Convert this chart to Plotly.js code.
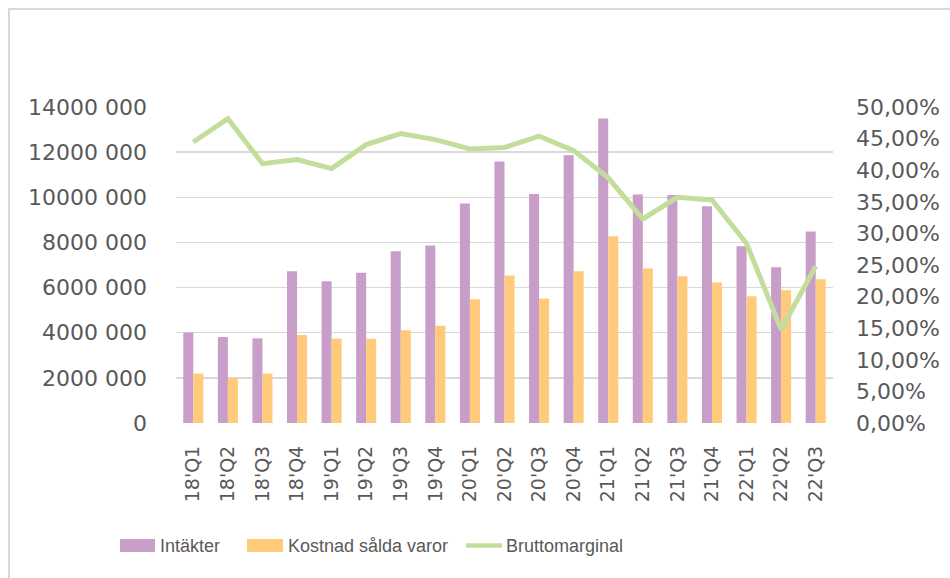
<!DOCTYPE html>
<html>
<head>
<meta charset="utf-8">
<script src="https://cdn.plot.ly/plotly-3.0.1.min.js"></script>
<style>html,body{margin:0;padding:0;background:#fff;}#chart{width:950px;height:578px;}</style>
</head>
<body>
<div id="chart"></div>
<script>
const categories = ["18'Q1","18'Q2","18'Q3","18'Q4","19'Q1","19'Q2","19'Q3","19'Q4","20'Q1","20'Q2","20'Q3","20'Q4","21'Q1","21'Q2","21'Q3","21'Q4","22'Q1","22'Q2","22'Q3"];
const intakter = [4010000,3810000,3750000,6720000,6280000,6660000,7610000,7860000,9720000,11580000,10150000,11860000,13490000,10120000,10100000,9600000,7830000,6900000,8480000];
const kostnad = [2190000,1980000,2190000,3900000,3740000,3730000,4110000,4310000,5480000,6530000,5520000,6720000,8270000,6840000,6500000,6220000,5610000,5880000,6370000];
const bruttomarginal = [0.4446,0.4816,0.4104,0.4168,0.4025,0.4405,0.4579,0.4484,0.4335,0.4360,0.4540,0.4310,0.3880,0.3230,0.3570,0.3530,0.2840,0.1480,0.2480];
const leftTickVals = [0,2000000,4000000,6000000,8000000,10000000,12000000,14000000];
const leftTickText = ["0","2000 000","4000 000","6000 000","8000 000","10000 000","12000 000","14000 000"];
const rightTickVals = [0,0.05,0.10,0.15,0.20,0.25,0.30,0.35,0.40,0.45,0.50];
const seriesNames = ["Intäkter","Kostnad sålda varor","Bruttomarginal"];
const seriesColors = ["#c89ec8","#ffca7a","#c3dd9c"];

const W = 950, H = 578, L = 176, R = 117, T = 107, B = 155;
const pw = W - L - R, ph = H - T - B;
const px = v => (v - L) / pw;      // pixel -> paper x
const py = v => (H - B - v) / ph;  // pixel -> paper y

const axisFont = {family: "DejaVu Sans, sans-serif", size: 22, color: "#595959"};
const legendFont = {family: "Liberation Sans Narrow, Liberation Sans, Arial, sans-serif", size: 18, color: "#595959"};

const traces = [
  {type: "bar", name: seriesNames[0], x: categories, y: intakter, marker: {color: seriesColors[0]}, yaxis: "y"},
  {type: "bar", name: seriesNames[1], x: categories, y: kostnad, marker: {color: seriesColors[1]}, yaxis: "y"},
  {type: "scatter", mode: "lines", name: seriesNames[2], x: categories, y: bruttomarginal, yaxis: "y2",
   line: {color: seriesColors[2], width: 5}}
];

// custom legend (swatch + label), positioned in paper coordinates
const legendY = 545.5;
const legendItems = [
  {sx0: 120, sx1: 155, tx: 158, kind: "rect"},
  {sx0: 247, sx1: 283, tx: 286, kind: "rect"},
  {sx0: 466, sx1: 502, tx: 504, kind: "line"}
];
const shapes = [
  {type: "rect", xref: "paper", yref: "paper", x0: px(9), x1: px(1000), y0: py(640), y1: py(9),
   line: {color: "#d9d9d9", width: 2}, fillcolor: "rgba(0,0,0,0)", layer: "below"}
];
const annotations = [];
legendItems.forEach((it, i) => {
  if (it.kind === "rect") {
    shapes.push({type: "rect", xref: "paper", yref: "paper", x0: px(it.sx0), x1: px(it.sx1),
      y0: py(legendY + 6.5), y1: py(legendY - 6.5), line: {width: 0}, fillcolor: seriesColors[i]});
  } else {
    shapes.push({type: "line", xref: "paper", yref: "paper", x0: px(it.sx0), x1: px(it.sx1),
      y0: py(legendY), y1: py(legendY), line: {color: seriesColors[i], width: 4.5}});
  }
  annotations.push({xref: "paper", yref: "paper", x: px(it.tx), y: py(legendY), xanchor: "left", yanchor: "middle",
    text: seriesNames[i], showarrow: false, font: legendFont});
});

const layout = {
  width: W, height: H,
  margin: {l: L, r: R, t: T, b: B, autoexpand: false},
  paper_bgcolor: "#fff", plot_bgcolor: "#fff",
  barmode: "group", bargap: 0.42, bargroupgap: 0,
  separators: ", ",
  showlegend: false,
  xaxis: {tickangle: -90, tickfont: {family: "DejaVu Sans, sans-serif", size: 19, color: "#595959"},
          showgrid: false, showline: false, ticks: "", zeroline: false, ticklabelstandoff: 18, automargin: false},
  yaxis: {range: [0, 14000000], tickvals: leftTickVals, ticktext: leftTickText, tickfont: axisFont,
          showgrid: true, gridcolor: "#d9d9d9", gridwidth: 1.5, zeroline: false, showline: false, ticks: "",
          ticklabelstandoff: 28, automargin: false},
  yaxis2: {range: [0, 0.5], overlaying: "y", side: "right", tickvals: rightTickVals, tickformat: ".2%",
           tickfont: axisFont, showgrid: false, zeroline: false, showline: false, ticks: "",
           ticklabelstandoff: 22, automargin: false},
  shapes: shapes,
  annotations: annotations
};
Plotly.newPlot("chart", traces, layout, {displayModeBar: false, staticPlot: true});
</script>
</body>
</html>
